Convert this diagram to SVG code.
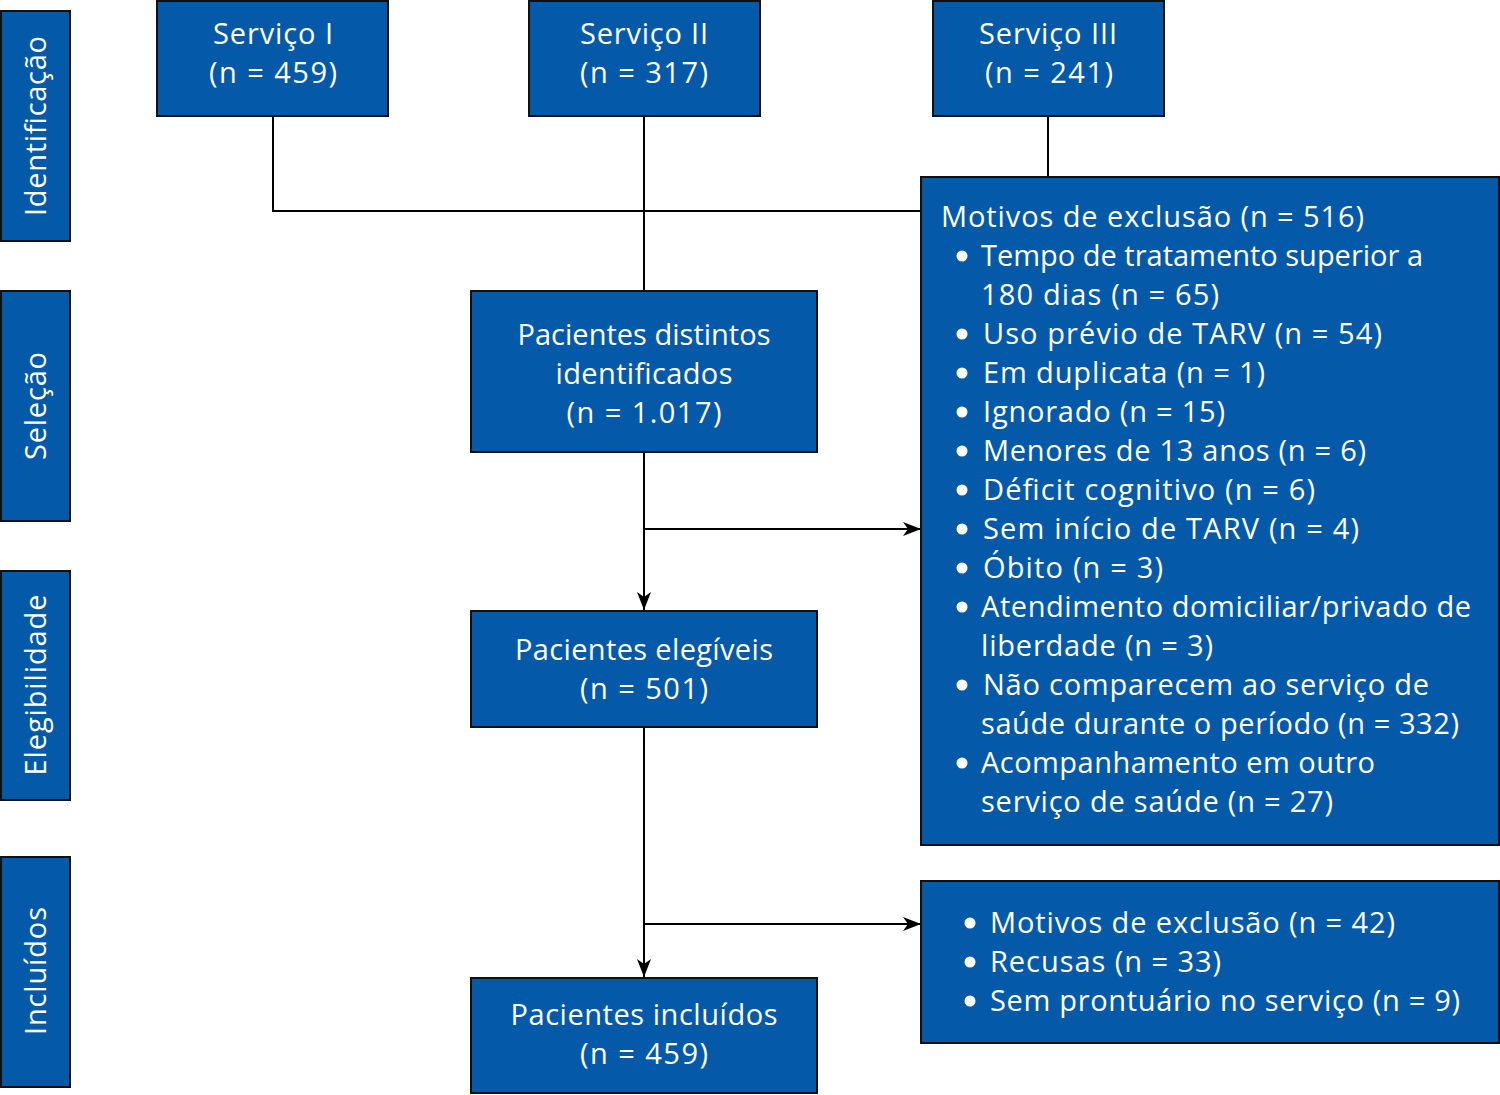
<svg xmlns="http://www.w3.org/2000/svg" width="1500" height="1095" viewBox="0 0 1500 1095">
<defs>
<style>
.box{fill:#0559a9;stroke:#111;stroke-width:2}
.t{fill:#fff;font-family:"Open Sans","Liberation Sans",sans-serif;font-size:29px}
.c{text-anchor:middle}
.ln{fill:none;stroke:#000;stroke-width:2}
.b{fill:#fff}
</style>
<marker id="ah" viewBox="0 0 18 14" refX="18" refY="7" markerWidth="18" markerHeight="14" markerUnits="userSpaceOnUse" orient="auto">
<path d="M0,0 L18,7 L0,14 L5,7 Z" fill="#000"/>
</marker>
</defs>
<rect width="1500" height="1095" fill="#fff"/>
<g id="connectors">
<path class="ln" d="M273,116 V211 H921"/>
<path class="ln" d="M644,116 V291"/>
<path class="ln" d="M1048,116 V177"/>
<path class="ln" d="M644,452 V610" marker-end="url(#ah)"/>
<path class="ln" d="M644,529 H921" marker-end="url(#ah)"/>
<path class="ln" d="M644,727 V977" marker-end="url(#ah)"/>
<path class="ln" d="M644,924 H921" marker-end="url(#ah)"/>
</g>
<g id="lbl-identificacao">
<rect class="box" x="1" y="11" width="69" height="230"/>
<text class="t c" transform="translate(46,126) rotate(-90)" textLength="180" lengthAdjust="spacing">Identificação</text>
</g>
<g id="lbl-selecao">
<rect class="box" x="1" y="291" width="69" height="230"/>
<text class="t c" transform="translate(46,406) rotate(-90)" textLength="108" lengthAdjust="spacing">Seleção</text>
</g>
<g id="lbl-elegibilidade">
<rect class="box" x="1" y="571" width="69" height="229"/>
<text class="t c" transform="translate(46,685) rotate(-90)" textLength="181" lengthAdjust="spacing">Elegibilidade</text>
</g>
<g id="lbl-incluidos">
<rect class="box" x="1" y="857" width="69" height="230"/>
<text class="t c" transform="translate(46,971) rotate(-90)" textLength="128" lengthAdjust="spacing">Incluídos</text>
</g>
<g id="servico1">
<rect class="box" x="157" y="1" width="231" height="115"/>
<text class="t c" x="273" y="44" textLength="120" lengthAdjust="spacing">Serviço I</text>
<text class="t c" x="273" y="83" textLength="128" lengthAdjust="spacing">(n = 459)</text>
</g>
<g id="servico2">
<rect class="box" x="529" y="1" width="231" height="115"/>
<text class="t c" x="644" y="44" textLength="128" lengthAdjust="spacing">Serviço II</text>
<text class="t c" x="644" y="83" textLength="128" lengthAdjust="spacing">(n = 317)</text>
</g>
<g id="servico3">
<rect class="box" x="933" y="1" width="231" height="115"/>
<text class="t c" x="1048" y="44" textLength="138" lengthAdjust="spacing">Serviço III</text>
<text class="t c" x="1049" y="83" textLength="128" lengthAdjust="spacing">(n = 241)</text>
</g>
<g id="distintos">
<rect class="box" x="471" y="291" width="346" height="161"/>
<text class="t c" x="644" y="345" textLength="253" lengthAdjust="spacing">Pacientes distintos</text>
<text class="t c" x="644" y="384" textLength="177" lengthAdjust="spacing">identificados</text>
<text class="t c" x="644" y="423" textLength="155" lengthAdjust="spacing">(n = 1.017)</text>
</g>
<g id="elegiveis">
<rect class="box" x="471" y="611" width="346" height="116"/>
<text class="t c" x="644" y="660" textLength="258" lengthAdjust="spacing">Pacientes elegíveis</text>
<text class="t c" x="644" y="699" textLength="128" lengthAdjust="spacing">(n = 501)</text>
</g>
<g id="incluidos">
<rect class="box" x="471" y="978" width="346" height="115"/>
<text class="t c" x="644" y="1025" textLength="267" lengthAdjust="spacing">Pacientes incluídos</text>
<text class="t c" x="644" y="1064" textLength="128" lengthAdjust="spacing">(n = 459)</text>
</g>
<g id="exclusao1">
<rect class="box" x="921" y="177" width="578" height="668"/>
<text class="t" x="941" y="227" textLength="423" lengthAdjust="spacing">Motivos de exclusão (n = 516)</text>
<g class="b">
<circle cx="962" cy="256" r="5.5"/>
<circle cx="962" cy="334" r="5.5"/>
<circle cx="962" cy="373" r="5.5"/>
<circle cx="962" cy="412" r="5.5"/>
<circle cx="962" cy="451" r="5.5"/>
<circle cx="962" cy="490" r="5.5"/>
<circle cx="962" cy="529" r="5.5"/>
<circle cx="962" cy="568" r="5.5"/>
<circle cx="962" cy="607" r="5.5"/>
<circle cx="962" cy="685" r="5.5"/>
<circle cx="962" cy="763" r="5.5"/>
</g>
<g class="t">
<text x="981" y="266" textLength="442" lengthAdjust="spacing">Tempo de tratamento superior a</text>
<text x="981" y="305" textLength="238" lengthAdjust="spacing">180 dias (n = 65)</text>
<text x="983" y="344" textLength="399" lengthAdjust="spacing">Uso prévio de TARV (n = 54)</text>
<text x="983" y="383" textLength="282" lengthAdjust="spacing">Em duplicata (n = 1)</text>
<text x="983" y="422" textLength="242" lengthAdjust="spacing">Ignorado (n = 15)</text>
<text x="983" y="461" textLength="383" lengthAdjust="spacing">Menores de 13 anos (n = 6)</text>
<text x="983" y="500" textLength="332" lengthAdjust="spacing">Déficit cognitivo (n = 6)</text>
<text x="983" y="539" textLength="376" lengthAdjust="spacing">Sem início de TARV (n = 4)</text>
<text x="983" y="578" textLength="180" lengthAdjust="spacing">Óbito (n = 3)</text>
<text x="981" y="617" textLength="490" lengthAdjust="spacing">Atendimento domiciliar/privado de</text>
<text x="981" y="656" textLength="232" lengthAdjust="spacing">liberdade (n = 3)</text>
<text x="983" y="695" textLength="446" lengthAdjust="spacing">Não comparecem ao serviço de</text>
<text x="981" y="734" textLength="478" lengthAdjust="spacing">saúde durante o período (n = 332)</text>
<text x="981" y="773" textLength="394" lengthAdjust="spacing">Acompanhamento em outro</text>
<text x="981" y="812" textLength="352" lengthAdjust="spacing">serviço de saúde (n = 27)</text>
</g>
</g>
<g id="exclusao2">
<rect class="box" x="921" y="881" width="578" height="162"/>
<g class="b">
<circle cx="970" cy="923" r="5.5"/>
<circle cx="970" cy="962" r="5.5"/>
<circle cx="970" cy="1001" r="5.5"/>
</g>
<g class="t">
<text x="990" y="933" textLength="405" lengthAdjust="spacing">Motivos de exclusão (n = 42)</text>
<text x="990" y="972" textLength="231" lengthAdjust="spacing">Recusas (n = 33)</text>
<text x="990" y="1011" textLength="470" lengthAdjust="spacing">Sem prontuário no serviço (n = 9)</text>
</g>
</g>
</svg>
